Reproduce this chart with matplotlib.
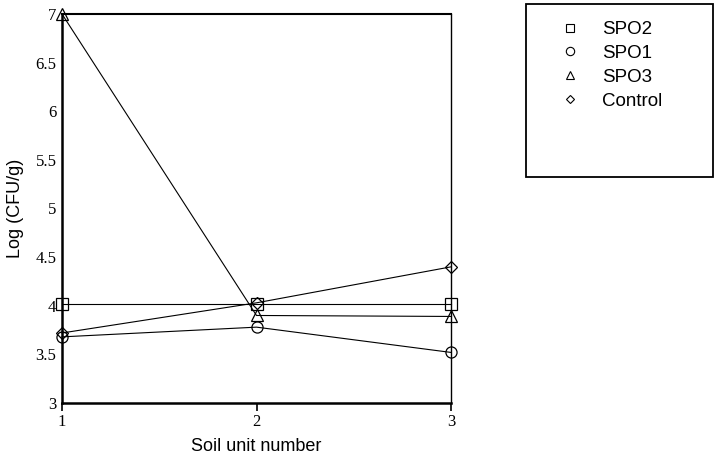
import matplotlib
matplotlib.use("Agg")
import matplotlib.pyplot as plt
from matplotlib.patches import Rectangle

soil_units = [1, 2, 3]
spo2 = [4.02, 4.02, 4.02]
spo1 = [3.68, 3.78, 3.52]
spo3 = [7.0, 3.9, 3.89]
control = [3.72, 4.03, 4.40]

x_ticks = [1, 2, 3]
y_ticks = [3, 3.5, 4, 4.5, 5, 5.5, 6, 6.5, 7]
y_tick_labels = ["3", "3.5", "4", "4.5", "5", "5.5", "6", "6.5", "7"]

fig = plt.figure(figsize=(7.14, 4.67), dpi=100)
ax = fig.add_axes([62 / 714, 64 / 467, 389 / 714, 389 / 467])

series = [
    ("SPO2", spo2, "s"),
    ("SPO1", spo1, "o"),
    ("SPO3", spo3, "^"),
    ("Control", control, "D"),
]
handles = []
for name, vals, mk in series:
    ax.plot(soil_units, vals, color="black", linewidth=0.8,
            marker=mk, markersize=8 if mk != "D" else 6,
            markerfacecolor="none", markeredgecolor="black",
            markeredgewidth=0.9, clip_on=False, zorder=3)
    h, = plt.plot([], [], linestyle="none", marker=mk,
                  markersize=6 if mk != "D" else 4.5,
                  markerfacecolor="none", markeredgecolor="black",
                  markeredgewidth=0.8, label=name)
    handles.append(h)

ax.set_xlim(1, 3)
ax.set_ylim(3, 7)
ax.set_xticks(x_ticks)
ax.set_xticklabels([str(v) for v in x_ticks], family="Liberation Serif", fontsize=12)
ax.set_yticks(y_ticks)
ax.set_yticklabels(y_tick_labels, family="Liberation Serif", fontsize=12)
ax.tick_params(axis="y", length=0, pad=4)
ax.tick_params(axis="x", length=6, width=1.2, direction="out", pad=2)

for side in ["left", "bottom", "top", "right"]:
    ax.spines[side].set_linewidth(1.0)
ax.spines["left"].set_linewidth(1.8)
ax.spines["bottom"].set_linewidth(1.8)
ax.spines["top"].set_linewidth(1.5)

ax.set_xlabel("Soil unit number", family="Liberation Sans", fontsize=13, labelpad=6)
ax.set_ylabel("Log (CFU/g)", family="Liberation Sans", fontsize=13, labelpad=8)

# legend box drawn separately, it is much taller than the entries
fig.patches.append(Rectangle((526 / 714, 1 - 177 / 467), 187 / 714, 173 / 467,
                             transform=fig.transFigure, fill=False,
                             edgecolor="black", linewidth=1.3))
leg = fig.legend(handles=handles, loc="upper left",
                 bbox_to_anchor=(561 / 714, 1 - 21 / 467),
                 prop={"family": "Liberation Sans", "size": 13.5},
                 frameon=False, borderpad=0, labelspacing=0.36,
                 handlelength=1.0, handletextpad=1.2, borderaxespad=0)

fig.savefig("out.png", dpi=100)
